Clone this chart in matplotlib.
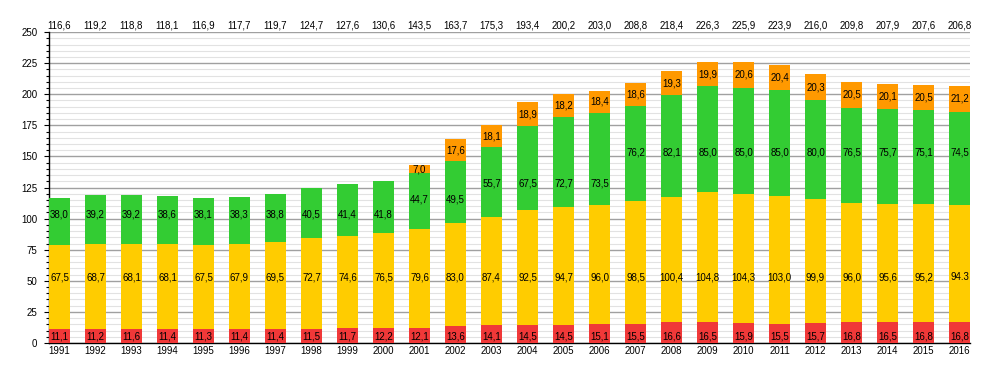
import numpy as np
import matplotlib
matplotlib.use("Agg")
import matplotlib.pyplot as plt
from matplotlib.ticker import MultipleLocator

# =====================================================================
# DATA
# =====================================================================
years = [str(y) for y in range(1991, 2017)]

red = [11.1, 11.2, 11.6, 11.4, 11.3, 11.4, 11.4, 11.5, 11.7, 12.2, 12.1, 13.6, 14.1,
       14.5, 14.5, 15.1, 15.5, 16.6, 16.5, 15.9, 15.5, 15.7, 16.8, 16.5, 16.8, 16.8]
yellow = [67.5, 68.7, 68.1, 68.1, 67.5, 67.9, 69.5, 72.7, 74.6, 76.5, 79.6, 83.0, 87.4,
          92.5, 94.7, 96.0, 98.5, 100.4, 104.8, 104.3, 103.0, 99.9, 96.0, 95.6, 95.2, 94.3]
green = [38.0, 39.2, 39.2, 38.6, 38.1, 38.3, 38.8, 40.5, 41.4, 41.8, 44.7, 49.5, 55.7,
         67.5, 72.7, 73.5, 76.2, 82.1, 85.0, 85.0, 85.0, 80.0, 76.5, 75.7, 75.1, 74.5]
orange = [0, 0, 0, 0, 0, 0, 0, 0, 0, 0, 7.0, 17.6, 18.1,
          18.9, 18.2, 18.4, 18.6, 19.3, 19.9, 20.6, 20.4, 20.3, 20.5, 20.1, 20.5, 21.2]
totals = [116.6, 119.2, 118.8, 118.1, 116.9, 117.7, 119.7, 124.7, 127.6, 130.6, 143.5, 163.7, 175.3,
          193.4, 200.2, 203.0, 208.8, 218.4, 226.3, 225.9, 223.9, 216.0, 209.8, 207.9, 207.6, 206.8]

# label heights used in the original timeline (fixed bands)
green_label_y = [103] * 10 + [115] * 2 + [128] * 4 + [153] * 10


def fmt(v):
    return f"{v:.1f}".replace(".", ",")


plt.rcParams['font.family'] = ['Liberation Sans', 'DejaVu Sans']

fig = plt.figure(figsize=(10, 3.73), dpi=100)
ax = fig.add_axes([0.049, 0.0804, 0.921, 0.8336])

x = np.arange(len(years))
w = 0.58

C_RED = "#f03838"
C_YEL = "#ffcc00"
C_GRN = "#33cc33"
C_ORG = "#ff9900"

r = np.array(red)
yl = np.array(yellow)
g = np.array(green)
o = np.array(orange)

ax.bar(x, r, w, color=C_RED, zorder=3)
ax.bar(x, yl, w, bottom=r, color=C_YEL, zorder=3)
ax.bar(x, g, w, bottom=r + yl, color=C_GRN, zorder=3)
ax.bar(x, o, w, bottom=r + yl + g, color=C_ORG, zorder=3)

fs = 7
for i in range(len(years)):
    ax.text(x[i], 5, fmt(red[i]), ha='center', va='center', fontsize=fs, zorder=4)
    # last yellow value is written with a dot in the original
    lab = fmt(yellow[i]) if i < len(years) - 1 else f"{yellow[i]:.1f}"
    ax.text(x[i], 53, lab, ha='center', va='center', fontsize=fs, zorder=4)
    ax.text(x[i], green_label_y[i], fmt(green[i]), ha='center', va='center', fontsize=fs, zorder=4)
    if orange[i] > 0:
        ax.text(x[i], r[i] + yl[i] + g[i] + o[i] / 2, fmt(orange[i]),
                ha='center', va='center', fontsize=fs, zorder=4)
    ax.text(x[i], 251, fmt(totals[i]), ha='center', va='bottom', fontsize=fs, clip_on=False)

ax.set_xlim(-w / 2, len(years) - 1 + w / 2)
ax.set_ylim(0, 250)
ax.set_xticks(x)
ax.set_xticklabels(years)
ax.yaxis.set_major_locator(MultipleLocator(25))
ax.yaxis.set_minor_locator(MultipleLocator(5))
ax.grid(True, which='major', axis='y', color='#a0a0a0', linewidth=1.0, zorder=0)
ax.grid(True, which='minor', axis='y', color='#e2e2e2', linewidth=0.8, zorder=0)
ax.set_axisbelow(True)

ax.tick_params(axis='x', length=0, pad=2, labelsize=fs)
ax.tick_params(axis='y', which='major', length=3.5, width=0.8, pad=5, labelsize=fs)
ax.tick_params(axis='y', which='minor', length=2, width=0.8)

ax.spines['top'].set_visible(False)
ax.spines['right'].set_visible(False)
ax.spines['left'].set_linewidth(1.0)
ax.spines['bottom'].set_linewidth(1.0)

fig.savefig("out.png", dpi=100)
